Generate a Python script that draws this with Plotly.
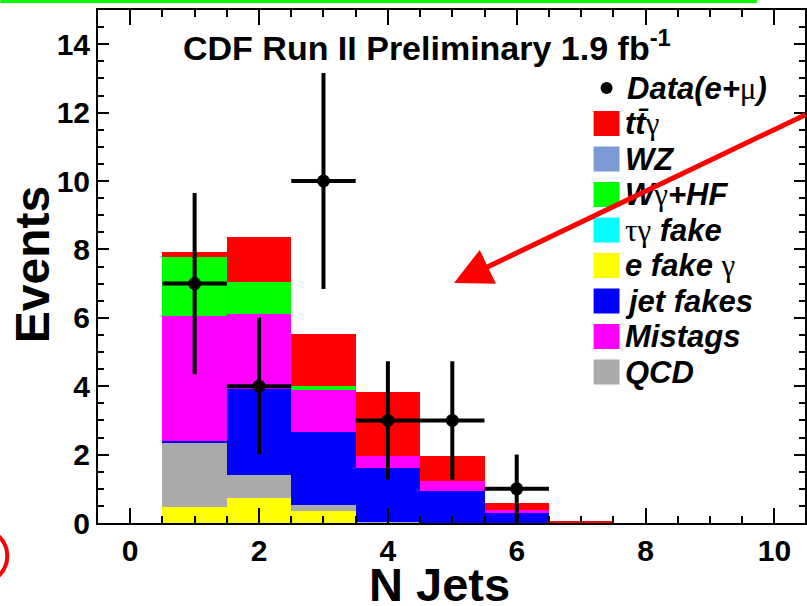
import plotly.graph_objects as go

# ---- data ----
njets = [1, 2, 3, 4, 5, 6, 7]

# stacked contributions, bottom to top
e_fake_gamma = [0.47, 0.73, 0.34, 0.00, 0.00, 0.00, 0.00]
qcd          = [1.87, 0.66, 0.20, 0.03, 0.00, 0.00, 0.00]
jet_fakes    = [0.05, 2.53, 2.11, 1.58, 0.93, 0.30, 0.00]
mistags      = [3.66, 2.18, 1.23, 0.34, 0.31, 0.08, 0.00]
tau_fake     = [0.00, 0.00, 0.00, 0.00, 0.00, 0.00, 0.00]
wgamma_hf    = [1.74, 0.96, 0.14, 0.00, 0.00, 0.00, 0.00]
wz           = [0.00, 0.00, 0.00, 0.00, 0.00, 0.00, 0.00]
ttgamma      = [0.13, 1.29, 1.52, 1.87, 0.73, 0.20, 0.06]

data_x   = [1, 2, 3, 4, 5, 6]
data_y   = [7, 4, 10, 3, 3, 1]
data_err = [2.65, 2.0, 3.16, 1.73, 1.73, 1.0]
data_xerr = [0.5, 0.5, 0.5, 0.5, 0.5, 0.5]

GREEK = '<span style="font-family:Liberation Serif;font-weight:normal;font-style:normal">{}</span>'

stack = [
    ("e fake γ", e_fake_gamma, "#ffff00"),
    ("QCD", qcd, "#aaaaaa"),
    ("jet fakes", jet_fakes, "#0000ff"),
    ("Mistags", mistags, "#ff00ff"),
    ("τγ fake", tau_fake, "#00ffff"),
    ("Wγ+HF", wgamma_hf, "#00ff00"),
    ("WZ", wz, "#7b9ad3"),
    ("tt̄γ", ttgamma, "#ff0000"),
]

legend_labels = [
    ("tt̄" + GREEK.format("γ"), "#ff0000"),
    ("WZ", "#7b9ad3"),
    ("W" + GREEK.format("γ") + "+HF", "#00ff00"),
    (GREEK.format("τγ") + " fake", "#00ffff"),
    ("e fake " + GREEK.format("γ"), "#ffff00"),
    ("jet fakes", "#0000ff"),
    ("Mistags", "#ff00ff"),
    ("QCD", "#aaaaaa"),
]

FONT = "Liberation Sans"
W, H = 807, 606
L, R, T, B = 98, 0, 10, 83
PW, PH = W - L - R, H - T - B


def px(xp):
    return (xp - L) / PW


def py(yp):
    return (H - B - yp) / PH


fig = go.Figure()
for name, vals, col in stack:
    fig.add_trace(go.Bar(
        x=njets, y=vals, name=name, width=1.0,
        marker=dict(color=col, line=dict(width=0)),
        showlegend=False,
    ))

fig.add_trace(go.Scatter(
    x=data_x, y=data_y, mode="markers", name="Data(e+μ)",
    marker=dict(color="black", size=13),
    error_y=dict(type="data", array=data_err, color="black", thickness=4, width=0),
    error_x=dict(type="data", array=data_xerr, color="black", thickness=4, width=0),
    showlegend=False,
))

annotations = []
shapes = []

# title
annotations.append(dict(
    x=px(428), y=py(45), xref="paper", yref="paper",
    text="CDF Run II Preliminary 1.9 fb<sup>-1</sup>", showarrow=False,
    font=dict(family=FONT, size=34, color="black", weight="bold"),
    xanchor="center", yanchor="middle",
))
# axis titles
annotations.append(dict(
    x=px(32), y=py(265), xref="paper", yref="paper", text="Events",
    textangle=-90, showarrow=False,
    font=dict(family=FONT, size=48, color="black", weight="bold"),
    xanchor="center", yanchor="middle",
))
annotations.append(dict(
    x=px(440), y=py(585), xref="paper", yref="paper", text="N Jets",
    showarrow=False,
    font=dict(family=FONT, size=47, color="black", weight="bold"),
    xanchor="center", yanchor="middle",
))

# legend (manual, built from the series lists)
row0 = 88
step = 35.5
shapes.append(dict(type="circle", xref="paper", yref="paper",
                   x0=px(602), x1=px(614), y0=py(row0 + 6), y1=py(row0 - 6),
                   fillcolor="black", line=dict(width=0)))
annotations.append(dict(
    x=px(626), y=py(row0), xref="paper", yref="paper",
    text="Data(e+" + GREEK.format("μ") + ")", showarrow=False,
    font=dict(family=FONT, size=31, color="black", weight="bold", style="italic"),
    xanchor="left", yanchor="middle",
))
for i, (lab, col) in enumerate(legend_labels):
    yc = row0 + step * (i + 1)
    shapes.append(dict(type="rect", xref="paper", yref="paper",
                       x0=px(595), x1=px(621), y0=py(yc + 12.5), y1=py(yc - 12.5),
                       fillcolor=col, line=dict(width=0)))
    annotations.append(dict(
        x=px(624), y=py(yc), xref="paper", yref="paper",
        text=lab, showarrow=False,
        font=dict(family=FONT, size=31, color="black", weight="bold", style="italic"),
        xanchor="left", yanchor="middle",
    ))

# red arrow overlay
annotations.append(dict(
    x=px(455), y=py(283), xref="paper", yref="paper", text="",
    showarrow=True, ax=355, ay=-169, arrowhead=2, arrowsize=1.5,
    arrowwidth=5, arrowcolor="#ff0000",
))
# green strip at top
shapes.append(dict(type="rect", xref="paper", yref="paper",
                   x0=px(0), x1=px(759), y0=py(3), y1=py(0),
                   fillcolor="#00ff00", line=dict(width=0)))
# red arc at bottom-left
shapes.append(dict(type="circle", xref="paper", yref="paper",
                   x0=px(-47), x1=px(7), y0=py(583), y1=py(529),
                   line=dict(color="#ff0000", width=4)))

axis_common = dict(
    showline=True, linecolor="black", linewidth=2, mirror="ticks",
    ticks="inside", tickcolor="black", tickwidth=2,
    showgrid=False, zeroline=False,
    tickfont=dict(family=FONT, size=30, color="black", weight="bold"),
)

fig.update_layout(
    width=W, height=H,
    margin=dict(l=L, r=R, t=T, b=B, pad=0),
    paper_bgcolor="white", plot_bgcolor="white",
    barmode="stack", bargap=0,
    xaxis=dict(range=[-0.5, 10.475], dtick=2, tick0=0, ticklen=15,
               minor=dict(dtick=0.5, ticklen=7, ticks="inside", tickcolor="black", tickwidth=2),
               **axis_common),
    yaxis=dict(range=[0, 15], dtick=2, tick0=0, ticklen=11,
               minor=dict(dtick=0.5, ticklen=6, ticks="inside", tickcolor="black", tickwidth=2),
               **axis_common),
    annotations=annotations, shapes=shapes,
    showlegend=False,
)

fig.write_html(
    "out.html",
    config={"displayModeBar": False},
    post_script="document.body.style.margin='0';document.body.style.overflow='hidden';",
)
